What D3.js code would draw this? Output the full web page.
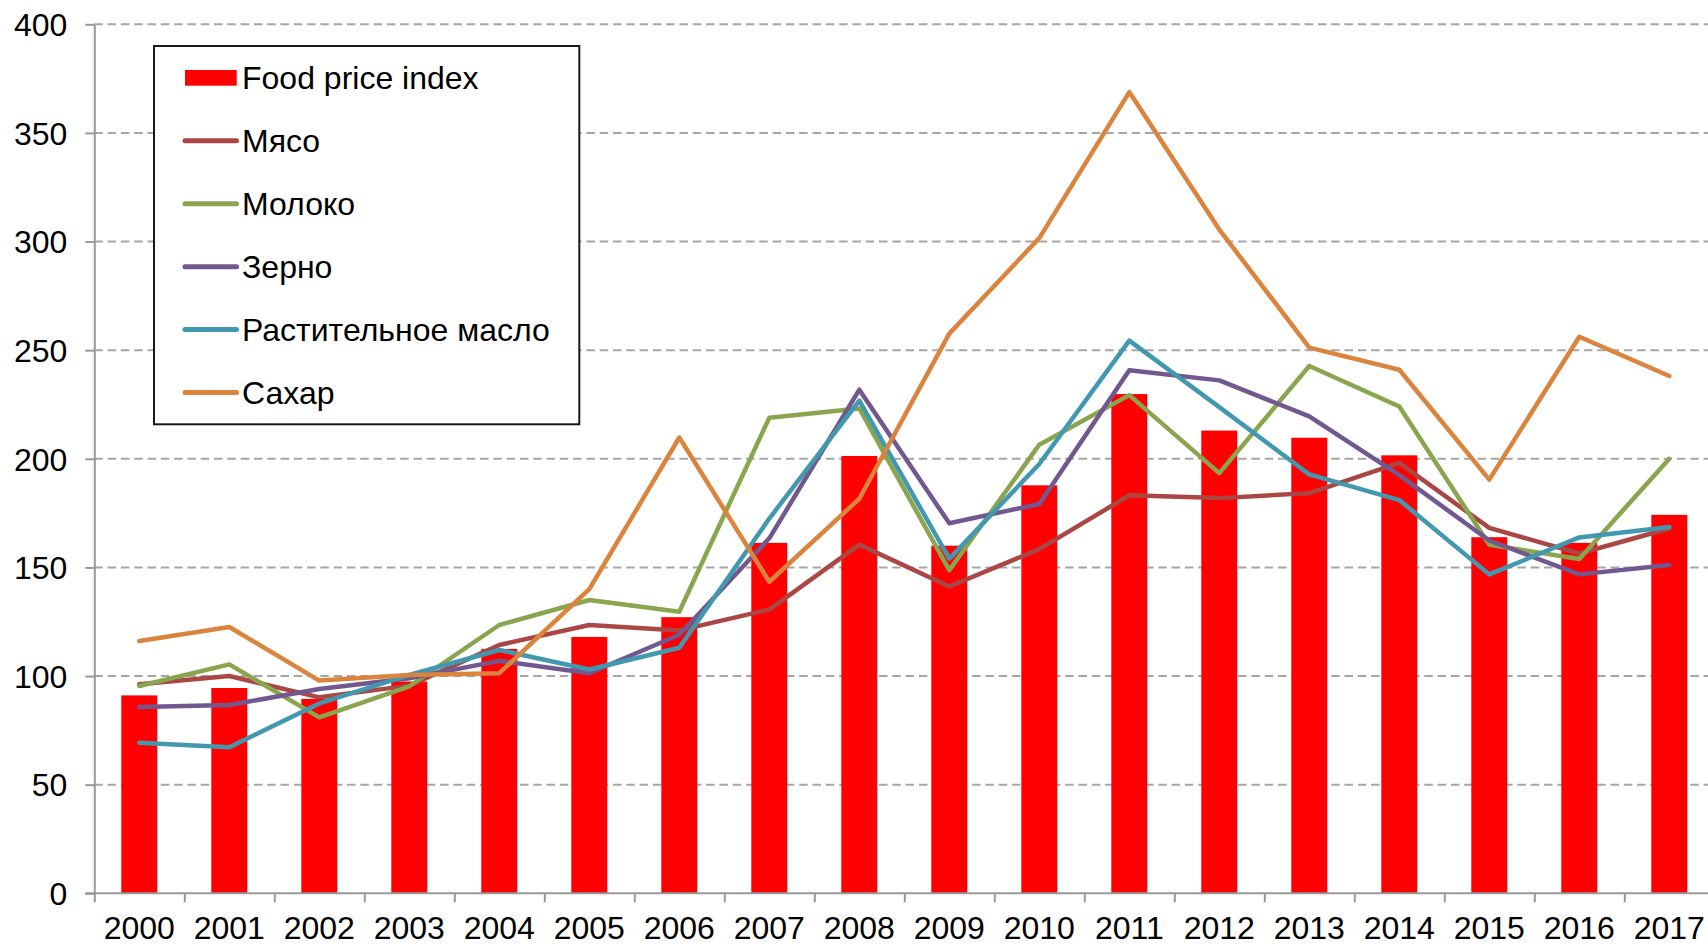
<!DOCTYPE html>
<html>
<head>
<meta charset="utf-8">
<script src="https://cdn.jsdelivr.net/npm/d3@7"></script>
<style>
  body { margin: 0; background: #fff; }
  text { font-family: "Liberation Sans", Arial, sans-serif; fill: #000; }
</style>
</head>
<body>
<div id="chart"></div>
<script>
// FAO indices, 2002-2004 = 100
const years = ["2000", "2001", "2002", "2003", "2004", "2005", "2006", "2007", "2008",
               "2009", "2010", "2011", "2012", "2013", "2014", "2015", "2016", "2017"];
const foodIndex = [91.1, 94.5, 89.5, 97.5, 112.5, 118.0, 127.1, 161.3, 201.3, 160.0, 187.8, 229.8, 213.0, 209.7, 201.6, 163.9, 161.3, 174.2];
const meat      = [96.2, 100.0, 90.2, 95.6, 114.3, 123.5, 121.0, 130.6, 160.5, 141.2, 158.4, 183.2, 181.9, 184.2, 198.1, 168.2, 156.4, 167.9];
const dairy     = [95.4, 105.4, 81.0, 95.3, 123.5, 135.0, 129.6, 218.9, 223.2, 148.7, 206.5, 229.3, 193.4, 242.7, 224.1, 160.4, 153.9, 200.0];
const cereals   = [85.8, 86.7, 94.0, 99.0, 107.0, 101.3, 119.0, 163.4, 231.8, 170.3, 179.2, 240.8, 236.1, 219.5, 192.5, 162.4, 146.8, 151.1];
const oils      = [69.3, 67.2, 87.4, 100.5, 112.0, 103.0, 113.0, 172.5, 226.8, 154.0, 197.6, 254.4, 223.8, 192.8, 181.0, 146.8, 163.8, 168.6];
const sugar     = [116.1, 122.6, 97.9, 100.5, 101.3, 140.0, 209.8, 143.4, 181.6, 257.6, 301.6, 368.8, 305.5, 251.2, 241.0, 190.4, 256.2, 238.1];
const yTicks = [0, 50, 100, 150, 200, 250, 300, 350, 400];

const barName = "Food price index";
const lineSeries = [
  { name: "Мясо", values: meat, color: "#AA4643" },
  { name: "Молоко", values: dairy, color: "#89A54E" },
  { name: "Зерно", values: cereals, color: "#71588F" },
  { name: "Растительное масло", values: oils, color: "#4198AF" },
  { name: "Сахар", values: sugar, color: "#DB843D" }
];

const width = 1708, height = 946;
const plotLeft = 94.3, plotBottom = 893.3, plotTop = 24.3;
const step = 90;
const fontSize = 32;

const svg = d3.select("#chart").append("svg")
    .attr("width", width)
    .attr("height", height);

const x = d3.scaleBand()
    .domain(years)
    .range([plotLeft, plotLeft + step * years.length])
    .paddingInner(0.6)
    .paddingOuter(0.3);

// band edges, for the category tick marks
const xEdge = d3.scaleLinear()
    .domain([0, years.length])
    .range([plotLeft, plotLeft + step * years.length]);

const y = d3.scaleLinear()
    .domain([0, 400])
    .range([plotBottom, plotTop]);

// dashed gridlines
svg.append("g")
    .selectAll("line")
    .data(yTicks.filter(d => d > 0))
    .join("line")
    .attr("x1", plotLeft)
    .attr("x2", width)
    .attr("y1", d => y(d))
    .attr("y2", d => y(d))
    .attr("stroke", "#A6A6A6")
    .attr("stroke-width", 2)
    .attr("stroke-dasharray", "8.5,4.8");

// bars
svg.append("g")
    .attr("fill", "#FF0000")
    .selectAll("rect")
    .data(foodIndex)
    .join("rect")
    .attr("x", (d, i) => x(years[i]))
    .attr("y", d => y(d))
    .attr("width", x.bandwidth())
    .attr("height", d => y(0) - y(d));

// axes
const yAxis = svg.append("g")
    .attr("transform", `translate(${plotLeft},0)`)
    .call(d3.axisLeft(y).tickValues(yTicks).tickSize(9).tickSizeOuter(0).tickPadding(18));
yAxis.selectAll("text").attr("font-size", fontSize).attr("dy", "0.35em")
    .style("font-family", '"Liberation Sans", Arial, sans-serif');

const xTicks = svg.append("g")
    .attr("transform", `translate(0,${plotBottom})`)
    .call(d3.axisBottom(xEdge).tickValues(d3.range(0, years.length + 1)).tickFormat("").tickSize(9).tickSizeOuter(0));
xTicks.select(".domain").remove();

svg.append("line")
    .attr("x1", plotLeft - 9).attr("x2", width)
    .attr("y1", plotBottom).attr("y2", plotBottom)
    .attr("stroke", "#999").attr("stroke-width", 2);

const xAxis = svg.append("g")
    .attr("transform", `translate(0,${plotBottom})`)
    .call(d3.axisBottom(x).tickSize(0));
xAxis.select(".domain").remove();
xAxis.selectAll("text").attr("font-size", fontSize).attr("dy", null).attr("y", 45.5)
    .style("font-family", '"Liberation Sans", Arial, sans-serif');

svg.selectAll(".domain, .tick line").attr("stroke", "#999").attr("stroke-width", 2);

// lines
const line = d3.line()
    .x((d, i) => x(years[i]) + x.bandwidth() / 2)
    .y(d => y(d));

svg.append("g")
    .selectAll("path")
    .data(lineSeries)
    .join("path")
    .attr("d", d => line(d.values))
    .attr("fill", "none")
    .attr("stroke", d => d.color)
    .attr("stroke-width", 4.5)
    .attr("stroke-linejoin", "round")
    .attr("stroke-linecap", "round");

// legend
const legend = svg.append("g");
legend.append("rect")
    .attr("x", 154).attr("y", 46)
    .attr("width", 425.3).attr("height", 378.3)
    .attr("fill", "#fff")
    .attr("stroke", "#1a1a1a")
    .attr("stroke-width", 2);

const rowY = i => 77.8 + 62.95 * i;

legend.append("rect")
    .attr("x", 185).attr("y", rowY(0) - 7.8)
    .attr("width", 51.7).attr("height", 15.7)
    .attr("fill", "#FF0000");
legend.append("text")
    .attr("x", 242).attr("y", rowY(0) + 11.5)
    .attr("font-size", fontSize)
    .text(barName);

const items = legend.selectAll(".item")
    .data(lineSeries)
    .join("g")
    .attr("class", "item")
    .attr("transform", (d, i) => `translate(0,${rowY(i + 1)})`);
items.append("line")
    .attr("x1", 185).attr("x2", 236.5)
    .attr("stroke", d => d.color)
    .attr("stroke-width", 5)
    .attr("stroke-linecap", "round");
items.append("text")
    .attr("x", 242).attr("y", 11.5)
    .attr("font-size", fontSize)
    .text(d => d.name);
</script>
</body>
</html>
